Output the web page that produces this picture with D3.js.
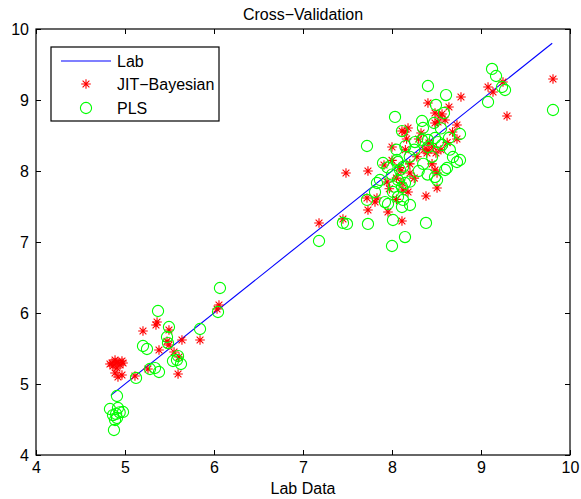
<!DOCTYPE html>
<html>
<head>
<meta charset="utf-8">
<script src="https://cdn.jsdelivr.net/npm/d3@7"></script>
<style>
  html, body { margin: 0; padding: 0; background: #fff; }
  svg { display: block; font-family: "Liberation Sans", Arial, Helvetica, sans-serif; }
</style>
</head>
<body>
<svg id="chart" width="581" height="499"></svg>
<script>
// ---------- data ----------
const titleText = "Cross\u2212Validation";
const xLabelText = "Lab Data";
const xTicks = [4, 5, 6, 7, 8, 9, 10];
const yTicks = [4, 5, 6, 7, 8, 9, 10];
const legendLabels = ["Lab", "JIT\u2212Bayesian", "PLS"];

// Lab reference line (y = x) across the lab-data range
const labLine = [4.84, 9.80];

// JIT-Bayesian predictions: lab value (x) and predicted value (y)
const jitLab = [
  4.854, 4.888, 4.921, 4.966, 4.978, 4.865, 4.910, 4.888, 4.966, 4.921, 4.831, 4.944, 4.899,
  5.112, 5.258, 5.202, 5.348, 5.360, 5.494, 5.382, 5.494, 5.551, 5.607, 5.640, 5.596, 5.843, 6.056, 6.034, 5.472,
  7.180, 7.449, 7.483, 7.730, 7.730, 7.719, 7.955, 7.831, 7.809, 7.944, 7.910, 8.000, 8.112, 8.146, 8.180,
  8.112, 8.326, 8.404, 8.640, 8.775, 8.483, 8.539, 8.562, 8.596, 8.517, 8.483, 8.730, 8.730, 8.164, 8.393,
  8.483, 8.506, 8.506, 8.382, 8.202, 8.112, 8.124, 8.180, 8.404, 8.462, 8.494, 8.415, 8.360, 8.280, 8.050,
  8.000, 8.080, 8.200, 8.250, 8.300, 8.550, 8.620, 8.100, 7.970, 8.050, 8.150, 8.450, 8.680,
  9.079, 9.247, 9.135, 9.292, 9.809
];
const jitPred = [
  5.296, 5.338, 5.310, 5.324, 5.296, 5.254, 5.225, 5.155, 5.127, 5.099, 5.282, 5.268, 5.300,
  5.113, 5.211, 5.746, 5.831, 5.873, 5.761, 5.479, 5.549, 5.451, 5.380, 5.620, 5.141, 5.620, 6.113, 6.056, 5.600,
  7.268, 7.324, 7.972, 8.000, 7.451, 7.620, 7.423, 7.620, 7.563, 7.845, 8.085, 8.338, 7.296, 8.549, 8.606,
  8.563, 8.535, 8.958, 8.901, 9.042, 8.817, 8.775, 8.803, 8.718, 8.690, 8.676, 8.648, 8.451, 8.451, 8.254,
  8.014, 7.972, 7.761, 7.648, 7.972, 7.831, 7.732, 7.704, 8.296, 8.338, 8.254, 8.394, 8.300, 8.200, 7.900,
  8.150, 8.050, 8.100, 7.900, 8.450, 8.300, 8.400, 8.000, 7.750, 7.600, 8.300, 8.100, 8.550,
  9.183, 9.254, 9.113, 8.775, 9.296
];

// PLS predictions: lab value (x) and predicted value (y)
const plsLab = [
  4.831, 4.921, 4.978, 4.865, 4.910, 4.888, 4.876, 4.910, 4.900, 4.940,
  5.124, 5.202, 5.247, 5.281, 5.337, 5.382, 5.371, 5.494, 5.472, 5.483, 5.596, 5.629, 5.539, 5.584, 5.843, 6.045, 6.067,
  7.180, 7.449, 7.494, 7.719, 7.730, 7.719, 7.831, 7.865, 7.809, 7.899, 7.921, 7.955, 8.011, 8.000, 8.146,
  8.011, 8.067, 8.112, 8.146, 8.382, 8.034, 8.112, 8.337, 8.472, 8.404, 8.607, 8.494, 8.584, 8.764, 8.640,
  8.056, 8.067, 8.090, 8.124, 8.067, 8.348, 8.258, 8.337, 8.404, 8.483, 8.517, 8.562, 8.404, 8.685, 8.730,
  8.618, 8.596, 8.483, 8.506, 8.124, 8.202, 8.112, 8.000, 8.200, 8.300, 8.250, 8.150, 7.950, 8.450, 8.350,
  8.050, 8.020, 8.200, 8.400, 8.550, 8.650, 8.764,
  9.124, 9.169, 9.236, 9.270, 9.079, 9.809
];
const plsPred = [
  4.648, 4.662, 4.606, 4.563, 4.521, 4.493, 4.352, 4.831, 4.580, 4.600,
  5.085, 5.535, 5.493, 5.211, 5.225, 5.169, 6.028, 5.803, 5.662, 5.577, 5.394, 5.282, 5.324, 5.338, 5.775, 6.014, 6.352,
  7.014, 7.268, 7.254, 8.352, 7.254, 7.592, 7.831, 7.873, 7.704, 8.113, 7.563, 7.535, 7.310, 6.944, 7.070,
  7.704, 7.634, 7.775, 7.831, 7.268, 8.761, 8.563, 8.704, 8.676, 9.197, 9.070, 8.930, 8.817, 8.521, 8.465,
  8.155, 8.127, 8.014, 8.056, 7.873, 8.606, 8.408, 8.437, 8.437, 8.465, 8.408, 8.366, 8.338, 8.197, 8.127,
  8.042, 8.014, 7.915, 7.873, 7.592, 7.521, 7.493, 7.950, 8.200, 8.000, 8.300, 8.350, 8.050, 8.200, 8.100,
  8.300, 7.780, 7.850, 7.950, 8.600, 8.300, 8.155,
  9.437, 9.338, 9.183, 9.141, 8.972, 8.859
];

// ---------- layout ----------
const svg = d3.select("#chart");
const W = 581, H = 499;
const plot = { left: 36, right: 570, top: 29, bottom: 455 };

const x = d3.scaleLinear().domain([4, 10]).range([plot.left, plot.right]);
const y = d3.scaleLinear().domain([4, 10]).range([plot.bottom, plot.top]);

svg.append("rect").attr("width", W).attr("height", H).attr("fill", "#fff");

const clipId = "plotclip";
svg.append("clipPath").attr("id", clipId).append("rect")
  .attr("x", plot.left).attr("y", plot.top)
  .attr("width", plot.right - plot.left).attr("height", plot.bottom - plot.top);

const g = svg.append("g").attr("clip-path", `url(#${clipId})`);

// Lab line
g.append("line")
  .attr("x1", x(labLine[0])).attr("y1", y(labLine[0]))
  .attr("x2", x(labLine[1])).attr("y2", y(labLine[1]))
  .attr("stroke", "#0000ff").attr("stroke-width", 1.1);

// asterisk marker path (MATLAB '*': plus + cross)
function starPath(r) {
  const d = r * Math.SQRT1_2;
  return `M${-r},0L${r},0M0,${-r}L0,${r}M${-d},${-d}L${d},${d}M${-d},${d}L${d},${-d}`;
}
const sp = starPath(4.8);

const jitData = jitLab.map((v, i) => [v, jitPred[i]]);
const plsData = plsLab.map((v, i) => [v, plsPred[i]]);

g.append("g").selectAll("path").data(jitData).join("path")
  .attr("transform", d => `translate(${x(d[0])},${y(d[1])})`)
  .attr("d", sp)
  .attr("fill", "none").attr("stroke", "#ff0000").attr("stroke-width", 1.1);

g.append("g").selectAll("circle").data(plsData).join("circle")
  .attr("cx", d => x(d[0])).attr("cy", d => y(d[1]))
  .attr("r", 5.6)
  .attr("fill", "none").attr("stroke", "#00ff00").attr("stroke-width", 1.1);

// ---------- axes (MATLAB box with inward ticks) ----------
const tickLen = 5;
const fontSize = 16;

const xAxisB = d3.axisBottom(x).tickValues(xTicks).tickSize(-tickLen).tickPadding(7).tickFormat(d3.format("d"));
const xAxisT = d3.axisTop(x).tickValues(xTicks).tickSize(-tickLen).tickFormat("");
const yAxisL = d3.axisLeft(y).tickValues(yTicks).tickSize(-tickLen).tickPadding(7).tickFormat(d3.format("d"));
const yAxisR = d3.axisRight(y).tickValues(yTicks).tickSize(-tickLen).tickFormat("");

function styleAxis(sel) {
  sel.select(".domain").remove();
  sel.selectAll(".tick line").attr("stroke", "#000").attr("stroke-width", 1);
  sel.selectAll("text").attr("fill", "#000").attr("font-size", fontSize)
    .attr("font-family", "Liberation Sans, Arial, sans-serif");
}

svg.append("g").attr("transform", `translate(0,${plot.bottom})`).call(xAxisB).call(styleAxis);
svg.append("g").attr("transform", `translate(0,${plot.top})`).call(xAxisT).call(styleAxis);
svg.append("g").attr("transform", `translate(${plot.left},0)`).call(yAxisL).call(styleAxis);
svg.append("g").attr("transform", `translate(${plot.right},0)`).call(yAxisR).call(styleAxis);

svg.append("rect")
  .attr("x", plot.left).attr("y", plot.top)
  .attr("width", plot.right - plot.left).attr("height", plot.bottom - plot.top)
  .attr("fill", "none").attr("stroke", "#000").attr("stroke-width", 1.2);

// title and x label
svg.append("text")
  .attr("x", (plot.left + plot.right) / 2).attr("y", 20)
  .attr("text-anchor", "middle").attr("font-size", fontSize).attr("fill", "#000")
  .text(titleText);

svg.append("text")
  .attr("x", (plot.left + plot.right) / 2).attr("y", 494)
  .attr("text-anchor", "middle").attr("font-size", fontSize).attr("fill", "#000")
  .text(xLabelText);

// ---------- legend ----------
const lg = svg.append("g");
const lgBox = { x: 51, y: 47, w: 168, h: 74 };
lg.append("rect").attr("x", lgBox.x).attr("y", lgBox.y).attr("width", lgBox.w).attr("height", lgBox.h)
  .attr("fill", "#fff").attr("stroke", "#000").attr("stroke-width", 1.2);

const rowY = [61, 84, 108];
// Lab line sample
lg.append("line").attr("x1", 61).attr("x2", 111).attr("y1", rowY[0]).attr("y2", rowY[0])
  .attr("stroke", "#0000ff").attr("stroke-width", 1.1);
lg.append("path").attr("transform", `translate(86,${rowY[1]})`).attr("d", sp)
  .attr("fill", "none").attr("stroke", "#ff0000").attr("stroke-width", 1.1);
lg.append("circle").attr("cx", 86).attr("cy", rowY[2]).attr("r", 5.6)
  .attr("fill", "none").attr("stroke", "#00ff00").attr("stroke-width", 1.1);

lg.selectAll("text.lbl").data(legendLabels).join("text")
  .attr("class", "lbl")
  .attr("x", 117).attr("y", (d, i) => rowY[i])
  .attr("dy", "0.35em")
  .attr("font-size", fontSize).attr("fill", "#000")
  .text(d => d);
</script>
</body>
</html>
